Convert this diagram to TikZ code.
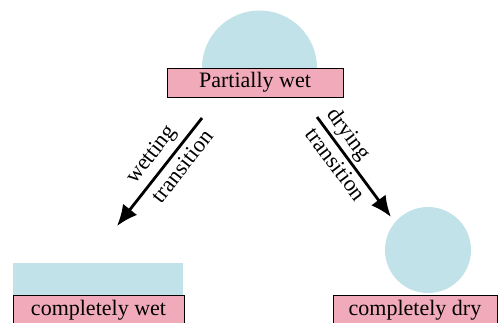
\documentclass[tikz,border=0pt]{standalone}
\usepackage{fontspec}
\setmainfont{Liberation Serif}
\usetikzlibrary{arrows.meta}
\definecolor{wetblue}{RGB}{192,226,232}
\definecolor{labpink}{RGB}{240,170,186}
\begin{document}
\begin{tikzpicture}[x=1pt,y=-1pt,
  labelbox/.style={draw=black, line width=1pt, fill=labpink, rectangle, inner sep=0pt, font=\fontsize{22}{24}\selectfont},
  drop/.style={fill=wetblue, draw=none, circle, inner sep=0pt},
  trans/.style={line width=2.8pt, -{Latex[length=21pt,width=18pt]}},
  tlab/.style={font=\fontsize{22.5}{24}\selectfont, inner sep=0pt}]
\useasboundingbox (0,0) rectangle (499,322);
% partially wet droplet (cap)
\fill[wetblue] (202,68) arc[start angle=180, end angle=360, radius=57.5] -- cycle;
\node[labelbox, minimum width=176pt, minimum height=29pt] (pw) at (255,82.5) {Partially wet};
% completely wet film
\fill[wetblue] (13,263) rectangle (183,295);
\node[labelbox, minimum width=171pt, minimum height=30pt] (cw) at (98.5,310) {completely wet};
% completely dry droplet
\node[drop, minimum size=86pt] (drydrop) at (428,250) {};
\node[labelbox, minimum width=164pt, minimum height=30pt] (cd) at (415,310) {completely dry};
% transitions
\coordinate (w0) at (202,118);
\coordinate (w1) at (117,226);
\draw[trans] (w0) -- (w1);
\coordinate (d0) at (317,117);
\coordinate (d1) at (391,217);
\draw[trans] (d0) -- (d1);
\node[tlab, rotate=52] (wl1) at (152,155) {wetting};
\node[tlab, rotate=52] (wl2) at (182,166) {transition};
\node[tlab, rotate=-53] (dl1) at (348,135) {drying};
\node[tlab, rotate=-53] (dl2) at (336,164) {transition};
\end{tikzpicture}
\end{document}
